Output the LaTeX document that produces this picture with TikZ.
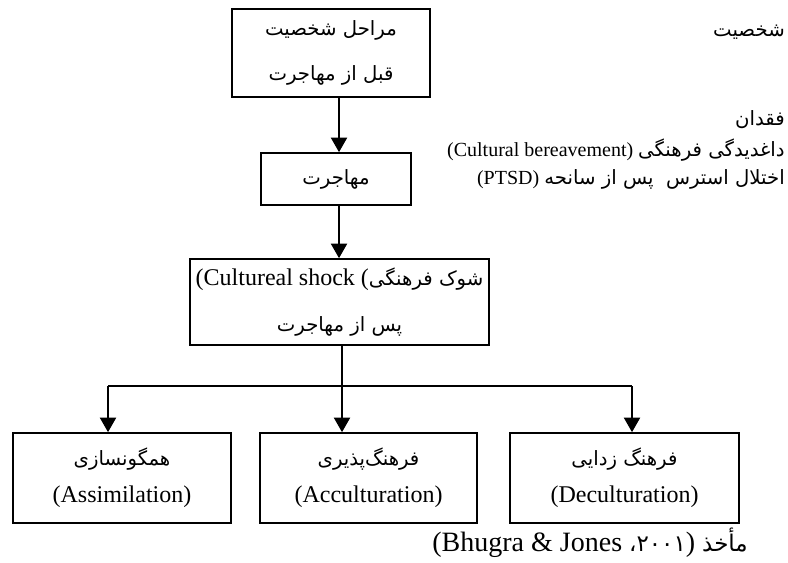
\documentclass[tikz,border=0pt]{standalone}
\usepackage{fontspec}
\setmainfont{Liberation Serif}
\newfontfamily\lat{Liberation Serif}
\newfontfamily\fa[Script=Arabic,Scale=0.82]{DejaVu Sans}
\TeXXeTstate=1
\usetikzlibrary{arrows.meta}
\newcommand\FA[1]{\hbox{\fa\beginR #1\endR}}
\newcommand\LA[1]{\hbox{\lat #1}}
\begin{document}
\begin{tikzpicture}[x=0.75pt,y=-0.75pt,
  box/.style={draw,line width=1.2pt,inner sep=0pt,align=center},
  bigtxt/.style={font=\fontsize{18}{34}\selectfont},
  lowtxt/.style={font=\fontsize{18}{28}\selectfont},
  side/.style={anchor=east,inner sep=0pt,font=\fontsize{15}{18}\selectfont},
  sidefa/.style={side,font=\fontsize{18}{20}\selectfont},
  arr/.style={line width=1.8pt,-{Triangle[width=12pt,length=11pt]}},
  hline/.style={line width=0.9pt}]
\useasboundingbox (0,0) rectangle (788,562);

\node[box,bigtxt,minimum width=148.5pt,minimum height=66pt] (b1) at (331,53)
  {\FA{مراحل شخصیت}\\\FA{قبل از مهاجرت}};
\node[box,bigtxt,minimum width=112.5pt,minimum height=39pt] (b2) at (336,179)
  {\FA{مهاجرت}};
\node[box,bigtxt,minimum width=224.25pt,minimum height=64.5pt] (b3) at (339.5,302)
  {\LA{(Cultureal shock (}\FA{شوک فرهنگی}\\\FA{پس از مهاجرت}};

\node[box,lowtxt,minimum width=163.5pt,minimum height=67.5pt] (bl) at (122,478)
  {\FA{همگونسازی}\\\LA{(Assimilation)}};
\node[box,lowtxt,minimum width=162.75pt,minimum height=67.5pt] (bm) at (368.5,478)
  {\FA{فرهنگ‌پذیری}\\\LA{(Acculturation)}};
\node[box,lowtxt,minimum width=171.75pt,minimum height=67.5pt] (br) at (624.5,478)
  {\FA{فرهنگ زدایی}\\\LA{(Deculturation)}};

\coordinate (c1) at (339,0);
\coordinate (c2) at (342,386);
\coordinate (jl) at (108,386);
\coordinate (jr) at (632,386);

\draw[arr] (b1.south -| c1) -- (b2.north -| c1);
\draw[arr] (b2.south -| c1) -- (b3.north -| c1);
\draw[hline] (jl) -- (jr);
\draw[arr] (b3.south -| c2) -- (bm.north -| c2);
\draw[arr] (jl) -- (bl.north -| jl);
\draw[arr] (jr) -- (br.north -| jr);

\node[sidefa] (s1) at (785,32) {\FA{شخصیت}};
\node[sidefa] (s2) at (785,120) {\FA{فقدان}};
\node[side] (s3) at (785,150) {\LA{(Cultural bereavement)}\ {\fontsize{18}{20}\selectfont\FA{داغدیدگی فرهنگی}}};
\node[side] (s4) at (785,179) {\LA{(PTSD)}\ {\fontsize{18}{20}\selectfont\FA{اختلال استرس\ \ پس از سانحه}}};

\node[anchor=east,inner sep=0pt,font=\fontsize{21}{24}\selectfont] (src) at (748,543)
  {\LA{(Bhugra \& Jones }\hbox{\fa ،}\hbox{\fa ۲۰۰۱}\LA{)}\ \FA{مأخذ}};
\end{tikzpicture}
\end{document}
